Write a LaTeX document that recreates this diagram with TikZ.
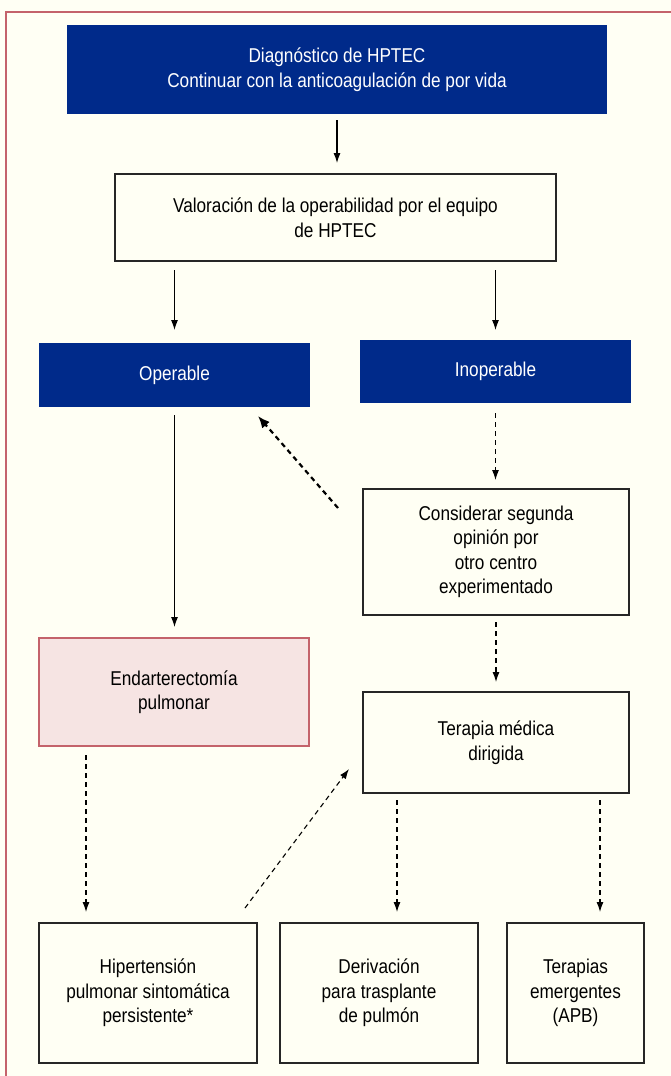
\documentclass[tikz,border=0pt]{standalone}
\usepackage{fontspec}
\setmainfont{Liberation Sans}[FakeStretch=0.86]
\usetikzlibrary{arrows.meta}
\definecolor{navy}{HTML}{002A8A}
\definecolor{cream}{HTML}{FFFFF4}
\definecolor{frame}{HTML}{C4636B}
\definecolor{pinkfill}{HTML}{F6E4E3}
\tikzset{
  x=1pt, y=-1pt,
  bluebox/.style={fill=navy, text=white, inner sep=0pt, outer sep=0pt, align=center,
    font=\fontsize{20}{24.5}\selectfont},
  whitebox/.style={draw=black!85, line width=1.1pt, fill=cream, inner sep=0pt, outer sep=0pt, align=center,
    font=\fontsize{20}{24.5}\selectfont},
  pinkbox/.style={draw=frame, line width=1.1pt, fill=pinkfill, inner sep=0pt, outer sep=0pt, align=center,
    font=\fontsize{20}{24.5}\selectfont},
  solidarr/.style={line width=1.1pt, -{Latex[length=10pt,width=7pt]}},
  dasharr/.style={line width=1.1pt, dash pattern=on 5pt off 4pt, -{Latex[length=10pt,width=7pt]}},
  thickdash/.style={line width=2.2pt, dash pattern=on 5pt off 4pt, -{Latex[length=12pt,width=10pt]}},
}
\begin{document}
\begin{tikzpicture}
\fill[cream] (0,0) rectangle (671,1076);
\useasboundingbox (0,0) rectangle (671,1076);
\draw[frame, line width=1.6pt] (6,1076) -- (6,12) -- (671,12);

% nodes
\node[bluebox, minimum width=540, minimum height=89] (top) at (337,69.5)
  {Diagnóstico de HPTEC\\Continuar con la anticoagulación de por vida};
\node[whitebox, minimum width=441, minimum height=87] (val) at (335.5,217.5)
  {Valoración de la operabilidad por el equipo\\de HPTEC};
\node[bluebox, minimum width=271, minimum height=64] (op) at (174.5,375) {Operable};
\node[bluebox, minimum width=271, minimum height=63] (inop) at (495.5,371.5) {Inoperable};
\node[whitebox, minimum width=266, minimum height=126] (cons) at (496,552)
  {Considerar segunda\\opinión por\\otro centro\\experimentado};
\node[pinkbox, minimum width=270, minimum height=108] (end) at (174,692)
  {Endarterectomía\\pulmonar};
\node[whitebox, minimum width=266, minimum height=101] (ter) at (496,742.5)
  {Terapia médica\\dirigida};
\node[whitebox, minimum width=218, minimum height=140] (b1) at (148,993)
  {Hipertensión\\pulmonar sintomática\\persistente*};
\node[whitebox, minimum width=198, minimum height=140] (b2) at (379,993)
  {Derivación\\para trasplante\\de pulmón};
\node[whitebox, minimum width=137, minimum height=140] (b3) at (575.5,993)
  {Terapias\\emergentes\\(APB)};

% connectors
\draw[solidarr, shorten <=6pt, shorten >=11pt] (top.south) -- (top.south |- val.north);
\draw[solidarr, shorten <=9pt, shorten >=13pt] (val.south -| op.north) -- (op.north);
\draw[solidarr, shorten <=9pt, shorten >=10pt] (val.south -| inop.north) -- (inop.north);
\draw[solidarr, shorten <=8pt, shorten >=11pt] (op.south) -- (op.south |- end.north);
\draw[dasharr, shorten <=10pt, shorten >=9pt] (inop.south) -- (inop.south |- cons.north);
\coordinate (d1s) at (338,508);
\coordinate (d1e) at (258,416);
\draw[thickdash] (d1s) -- (d1e);
\draw[dasharr, shorten <=7pt, shorten >=10pt] (cons.south) -- (cons.south |- ter.north);
\coordinate (e1) at ([xshift=47pt]end.south west);
\draw[dasharr, shorten <=9pt, shorten >=11pt] (e1) -- (e1 |- b1.north);
\coordinate (d2s) at (245,908);
\coordinate (d2e) at (349,769);
\draw[dasharr] (d2s) -- (d2e);
\coordinate (t1) at ([xshift=34pt]ter.south west);
\coordinate (t2) at ([xshift=237pt]ter.south west);
\draw[dasharr, shorten <=7pt, shorten >=11pt] (t1) -- (t1 |- b2.north);
\draw[dasharr, shorten <=7pt, shorten >=11pt] (t2) -- (t2 |- b3.north);
\end{tikzpicture}
\end{document}
